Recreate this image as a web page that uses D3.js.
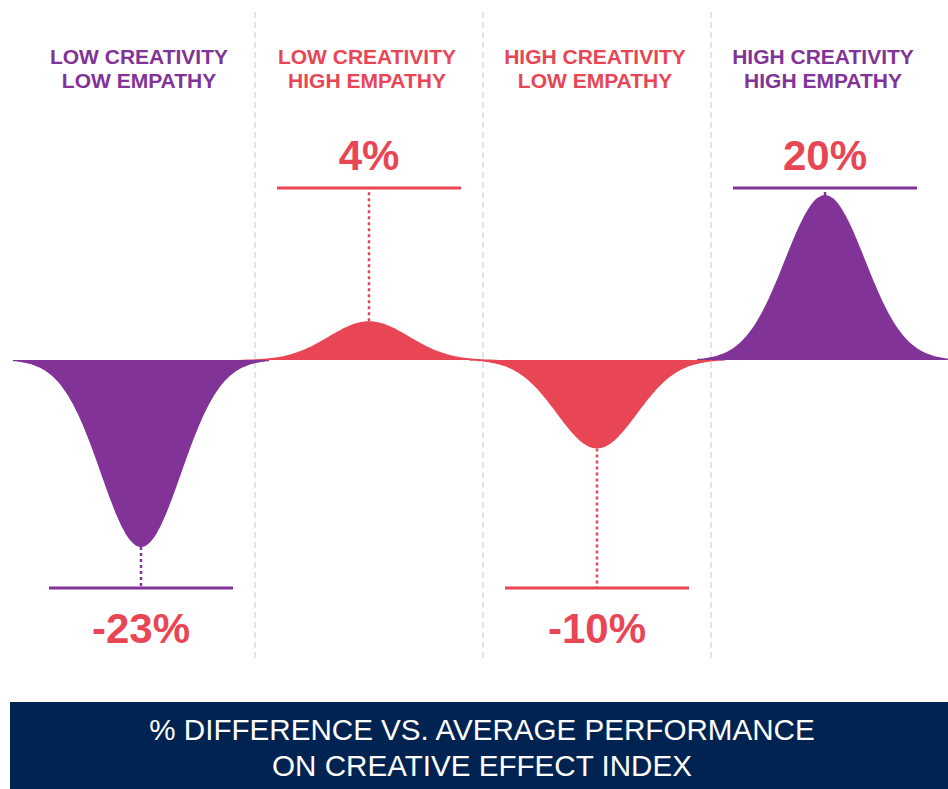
<!DOCTYPE html>
<html>
<head>
<meta charset="utf-8">
<script src="https://cdn.jsdelivr.net/npm/d3@7"></script>
<style>
  body { margin: 0; background: #fff; }
  svg { display: block; font-family: "Liberation Sans", Arial, sans-serif; }
</style>
</head>
<body>
<div id="chart"></div>
<script>
// data
const categories = ["LOW CREATIVITY|LOW EMPATHY", "LOW CREATIVITY|HIGH EMPATHY",
                    "HIGH CREATIVITY|LOW EMPATHY", "HIGH CREATIVITY|HIGH EMPATHY"];
const values = [-23, 4, -10, 20];
const valueLabels = ["-23%", "4%", "-10%", "20%"];
const seriesColors = ["purple", "red", "red", "purple"];
const titleLines = ["% DIFFERENCE VS. AVERAGE PERFORMANCE", "ON CREATIVE EFFECT INDEX"];

const W = 948, H = 789;
const PURPLE = "#823398", RED = "#E94655", NAVY = "#002352";
const colr = c => c === "purple" ? PURPLE : RED;
const BASE = 360;
const SIGMA = 38;

const svg = d3.select("#chart").append("svg")
    .attr("width", W)
    .attr("height", H);

const x = d3.scaleBand()
    .domain(categories)
    .range([27, 939])
    .padding(0);

// the original bells aren't quite to scale, a pow scale gets closest
const y = d3.scalePow()
    .exponent(0.9)
    .domain([0, 25])
    .range([BASE, BASE - 201.7]);

const cx = c => x(c) + x.bandwidth() / 2;

// column dividers
svg.append("g")
  .selectAll("line")
  .data(categories.slice(1))
  .join("line")
    .attr("x1", d => x(d)).attr("x2", d => x(d))
    .attr("y1", 12).attr("y2", 662)
    .attr("stroke", "#dcdcdc")
    .attr("stroke-width", 1.5)
    .attr("stroke-dasharray", "6,4");

// bell curves
const area = d3.area()
    .x(d => d[0])
    .y0(BASE)
    .y1(d => d[1])
    .curve(d3.curveBasis);

categories.forEach((c, i) => {
    const center = cx(c);
    const pts = d3.range(-128, 129, 2).map(dx =>
        [center + dx, y(values[i] * Math.exp(-dx * dx / (2 * SIGMA * SIGMA)))]);
    svg.append("path")
        .attr("d", area(pts))
        .attr("fill", colr(seriesColors[i]));
});

// reference lines + dotted stems
const g = svg.append("g");
categories.forEach((c, i) => {
    const v = values[i];
    const center = cx(c);
    const lineY = v > 0 ? 188 : 588;
    const col = colr(seriesColors[i]);
    g.append("line")
        .attr("x1", center - 92).attr("x2", center + 92)
        .attr("y1", lineY).attr("y2", lineY)
        .attr("stroke", col).attr("stroke-width", 3);
    g.append("line")
        .attr("x1", center).attr("x2", center)
        .attr("y1", y(v)).attr("y2", lineY)
        .attr("stroke", col).attr("stroke-width", 2.5)
        .attr("stroke-dasharray", "3,3");
    g.append("text")
        .attr("x", center)
        .attr("y", v > 0 ? 170 : 643)
        .attr("text-anchor", "middle")
        .attr("font-size", 42)
        .attr("font-weight", "bold")
        .attr("fill", RED)
        .text(valueLabels[i]);
});

// category labels
categories.forEach((c, i) => {
    const t = svg.append("text")
        .attr("text-anchor", "middle")
        .attr("font-size", 21)
        .attr("font-weight", "bold")
        .attr("fill", colr(seriesColors[i]));
    c.split("|").forEach((line, j) => {
        t.append("tspan")
            .attr("x", cx(c) - 2)
            .attr("y", 64 + j * 24)
            .text(line);
    });
});

// title banner
svg.append("rect")
    .attr("x", 10).attr("y", 702)
    .attr("width", W - 10).attr("height", H - 702)
    .attr("fill", NAVY);

svg.append("g")
  .selectAll("text")
  .data(titleLines)
  .join("text")
    .attr("x", 482)
    .attr("y", (d, i) => 740 + i * 36)
    .attr("text-anchor", "middle")
    .attr("font-size", 29.6)
    .attr("fill", "#fff")
    .text(d => d);
</script>
</body>
</html>
